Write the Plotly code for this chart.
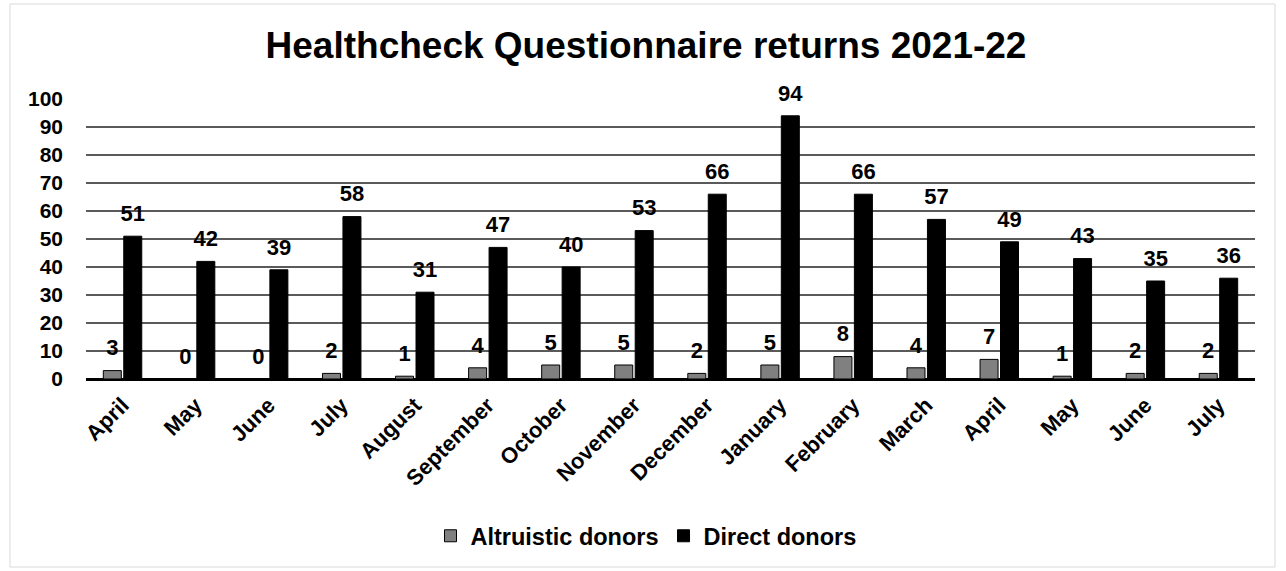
import plotly.graph_objects as go

months = ["April", "May", "June", "July", "August", "September", "October",
          "November", "December", "January", "February", "March",
          "April", "May", "June", "July"]
altruistic = [3, 0, 0, 2, 1, 4, 5, 5, 2, 5, 8, 4, 7, 1, 2, 2]
direct = [51, 42, 39, 58, 31, 47, 40, 53, 66, 94, 66, 57, 49, 43, 35, 36]

FONT = "Arial, Liberation Sans, sans-serif"
W, H = 1286, 571
L, R, T, B = 86, 31, 99, 192
BARGAP = 0.44

x = list(range(len(months)))

series = [
    ("Altruistic donors", altruistic, "#808080"),
    ("Direct donors", direct, "#000000"),
]

fig = go.Figure()
for name, vals, col in series:
    fig.add_trace(go.Bar(
        name=f"<b>{name}</b>", x=x, y=vals, offsetgroup=name,
        marker=dict(color=col, line=dict(color="#000000", width=1)),
        hoverinfo="x+y",
    ))
# value labels floating above each bar, grouped the same way as the bars
for name, vals, col in series:
    fig.add_trace(go.Scatter(
        x=x, y=vals, offsetgroup=name, mode="markers+text",
        marker=dict(size=14, color="rgba(0,0,0,0)"),
        text=[f"<b>{v}</b>" for v in vals], textposition="top center",
        textfont=dict(family=FONT, size=22, color="#000000"),
        showlegend=False, cliponaxis=False, hoverinfo="skip",
    ))

fig.update_layout(
    template="none",
    width=W, height=H,
    margin=dict(l=L, r=R, t=T, b=B),
    paper_bgcolor="#ffffff", plot_bgcolor="#ffffff",
    barmode="group", bargap=BARGAP, bargroupgap=0.12,
    scattermode="group", scattergap=BARGAP,
    font=dict(family=FONT, color="#000000"),
    title=dict(text="<b>Healthcheck Questionnaire returns 2021-22</b>",
               xref="paper", x=(646 - L) / (W - L - R), xanchor="center",
               y=1 - 45 / H, yanchor="middle",
               font=dict(family=FONT, size=37, color="#000000")),
    legend=dict(orientation="h", xref="paper", x=(646 - L) / (W - L - R),
                xanchor="center",
                y=-(536 - (H - B)) / (H - T - B), yanchor="middle",
                font=dict(family=FONT, size=23.5, color="#000000"),
                itemwidth=30, traceorder="normal", bgcolor="rgba(0,0,0,0)"),
    xaxis=dict(tickmode="array", tickvals=x,
               ticktext=[f"<b>{m}</b>" for m in months],
               tickangle=-45, tickfont=dict(family=FONT, size=22, color="#000000"),
               range=[-0.5, len(months) - 0.5], showgrid=False,
               showline=False, zeroline=False, ticks="", ticklabelstandoff=8,
               automargin=False),
    yaxis=dict(range=[0, 100], tickmode="array",
               tickvals=list(range(0, 101, 10)),
               ticktext=[f"<b>{v}</b>" for v in range(0, 101, 10)],
               tickfont=dict(family=FONT, size=21, color="#000000"),
               showgrid=True, gridcolor="#5a5a5a", gridwidth=1.5,
               zeroline=True, zerolinecolor="#000000", zerolinewidth=2.5,
               showline=False, ticks="", ticklabelstandoff=22,
               automargin=False),
)

# light frame around the chart
pw, ph = W - L - R, H - T - B
fig.add_shape(type="rect", xref="paper", yref="paper",
              x0=(10 - L) / pw, x1=(1275 - L) / pw,
              y0=-(567 - (H - B)) / ph, y1=1 + (T - 4) / ph,
              line=dict(color="#d9d9d9", width=1), fillcolor="rgba(0,0,0,0)",
              layer="below")

fig.write_html("out.html")
